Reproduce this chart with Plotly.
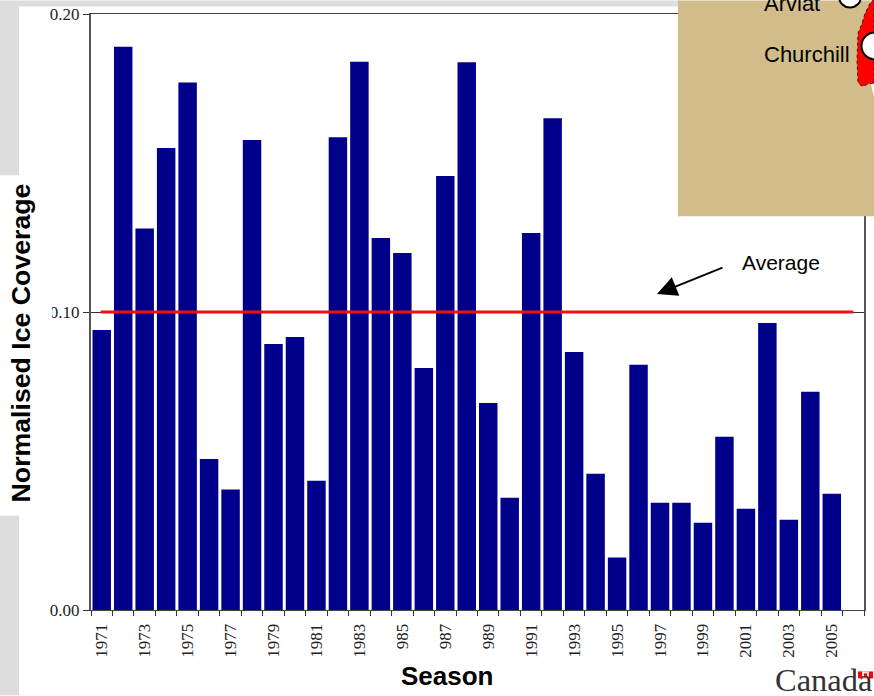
import plotly.graph_objects as go

seasons = list(range(1971, 2006))
coverage = [0.094, 0.189, 0.128, 0.155, 0.177, 0.0507, 0.0404, 0.1577, 0.0893, 0.0916,
            0.0434, 0.1586, 0.184, 0.1248, 0.1198, 0.0812, 0.1456, 0.1838, 0.0695, 0.0377,
            0.1265, 0.165, 0.0866, 0.0457, 0.0176, 0.0823, 0.036, 0.036, 0.0293, 0.0581,
            0.034, 0.0963, 0.0303, 0.0732, 0.039]
average_x = [1970.95, 2006]
average_y = [0.10, 0.10]
tick_years = list(range(1971, 2006, 2))
tick_labels = ["1971", "1973", "1975", "1977", "1979", "1981", "1983", "985", "987", "989",
               "1991", "1993", "1995", "1997", "1999", "2001", "2003", "2005"]

W, H = 874, 696
L, R, T, B = 91, 864, 13.5, 610.5
GREY = "#DDDDDD"
TAN = "#D2BD8A"
SERIF = "Liberation Serif"
SANS = "Liberation Sans"


def px(x):
    return (x - L) / (R - L)


def py(y):
    return (B - y) / (B - T)


def rect(x0, y0, x1, y1, color, layer="above"):
    return dict(type="rect", xref="paper", yref="paper", x0=px(x0), x1=px(x1), y0=py(y0), y1=py(y1),
                fillcolor=color, line_width=0, layer=layer)


def circle(cx, cy, r):
    return dict(type="circle", xref="paper", yref="paper", x0=px(cx - r), x1=px(cx + r),
                y0=py(cy + r), y1=py(cy - r), fillcolor="white",
                line=dict(color="black", width=2), layer="above")


def poly(points, color, line=None):
    path = "M " + " L ".join(f"{px(x):.5f} {py(y):.5f}" for x, y in points) + " Z"
    return dict(type="path", xref="paper", yref="paper", path=path, fillcolor=color,
                line=line or dict(width=0), layer="above")


fig = go.Figure()
fig.add_bar(x=seasons, y=coverage, marker_color="#00008B", marker_line_width=0, name="Normalised Ice Coverage")
fig.add_scatter(x=average_x, y=average_y, mode="lines", line=dict(color="#EE1111", width=3), name="Average")

red_region = [(874, -2), (870, 3), (865, 13), (862, 23), (858, 33), (857, 60), (858, 82),
              (862, 86), (870, 83), (874, 84)]
white_tip = [(871, 84), (874, 83), (874, 96), (873, 93)]

shapes = [
    rect(0, 0, 19, 175, GREY, "below"),
    rect(0, 516, 19, 696, GREY, "below"),
    rect(19, 0, 680, 6, GREY, "below"),
    rect(44, 300, 52, 325, "white"),
    rect(678, 0, 874, 216, TAN),
    poly(red_region, "#FF0000", dict(color="#331111", width=1, dash="dot")),
    poly(white_tip, "white"),
    circle(850, -4, 11),
    circle(875, 45.5, 13.5),
    rect(858, 672, 873, 679, "#FF0000"),
    rect(862, 672, 869, 679, "#FFE0E0"),
    rect(864, 674, 867, 678, "#FF0000"),
]


def label(text, x, y, size, family=SANS, color="black", weight=None, angle=0, anchor="left"):
    return dict(text=text, xref="paper", yref="paper", x=px(x), y=py(y), xanchor=anchor, yanchor="middle",
                showarrow=False, textangle=angle, font=dict(family=family, size=size, color=color, weight=weight))


annotations = [
    label("Arviat", 762, 3, 22),
    label("Churchill", 762, 54, 22),
    label("Average", 740, 262, 21),
    label("Canada", 772.5, 681, 32.5, SERIF, "#333333"),
    label("Season", 447.5, 677, 26, weight="bold", anchor="center"),
    label("Normalised Ice Coverage", 21, 343.5, 26.7, weight="bold", angle=-90, anchor="center"),
    dict(text="", xref="paper", yref="paper", axref="pixel", ayref="pixel",
         x=px(657), y=py(294), ax=67, ay=-27, showarrow=True, arrowhead=2, arrowsize=2,
         arrowwidth=2, arrowcolor="black"),
]

fig.update_layout(
    width=W, height=H, autosize=False,
    margin=dict(l=L, r=W - R, t=T, b=H - B, pad=0, autoexpand=False),
    paper_bgcolor="white", plot_bgcolor="white",
    showlegend=False, bargap=0.14,
    shapes=shapes, annotations=annotations,
    xaxis=dict(
        automargin=False,
        range=[1970.5, 2006.5], tickmode="array", tickvals=tick_years, ticktext=tick_labels,
        ticks="outside", ticklen=6, tickcolor="rgba(0,0,0,0)", tickangle=-90,
        tickfont=dict(family=SERIF, size=17, color="#222222"),
        showgrid=False, zeroline=False, showline=True, mirror=True, linecolor="#444444", linewidth=1,
        minor=dict(ticks="outside", ticklen=5, tickwidth=1, tickcolor="#333333", tick0=1970.5, dtick=1, showgrid=False),
    ),
    yaxis=dict(
        automargin=False,
        range=[0, 0.2], tickmode="array", tickvals=[0, 0.1, 0.2], ticktext=["0.00", "0.10", "0.20"],
        ticks="outside", ticklen=6, tickcolor="#333333",
        tickfont=dict(family=SERIF, size=17, color="#222222"),
        showgrid=True, gridcolor="#333333", gridwidth=1, zeroline=False,
        showline=True, mirror=True, linecolor="#555555", linewidth=2,
    ),
)

fig.write_html("out.html", config={"displayModeBar": False},
               post_script="document.body.style.margin='0';document.body.style.overflow='hidden';")
